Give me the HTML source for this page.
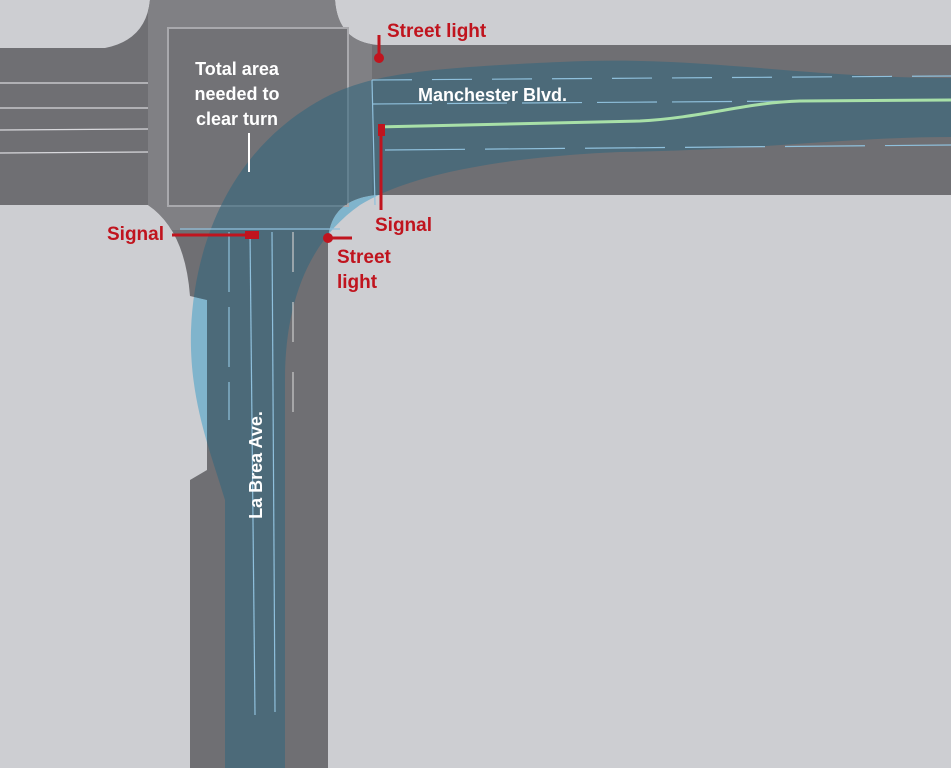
<!DOCTYPE html>
<html><head><style>body{margin:0;background:#cdced2}svg{display:block}text{font-family:"Liberation Sans",sans-serif;font-weight:bold}</style></head><body>
<svg width="951" height="768" viewBox="0 0 951 768">
<defs>
<clipPath id="road"><path d="M0,48 H105 Q146,40 150,0 H335 Q338,42 378,45 H951 V195 H375 Q330,200 328,240 V768 H190 V480 L207,470 V300 L190,296 Q185,230 148,205 H0 Z"/></clipPath>
</defs>
<rect width="951" height="768" fill="#cdced2"/>
<path d="M951,78 C800,78 700,55 560,62 C420,68 372,75 330,95 C240,140 195,230 191,330 C189,400 210,450 225,500 V768 H285 V380 C285,300 310,240 360,205 C400,180 480,158 620,152 C760,150 850,137 951,137 Z" fill="#80b4cc"/>
<path d="M0,48 H105 Q146,40 150,0 H335 Q338,42 378,45 H951 V195 H375 Q330,200 328,240 V768 H190 V480 L207,470 V300 L190,296 Q185,230 148,205 H0 Z" fill="#6f6f73"/>
<rect x="148" y="0" width="224" height="230" fill="#808084" clip-path="url(#road)"/>
<rect x="168" y="28" width="180" height="178" fill="#727276" stroke="#a9a9ad" stroke-width="2"/>
<g stroke="#d8d8dc" stroke-width="1.2">
<line x1="0" y1="83" x2="148" y2="83"/><line x1="0" y1="108" x2="148" y2="108"/><line x1="0" y1="130" x2="148" y2="129"/><line x1="0" y1="153" x2="148" y2="152"/>
</g>
<path d="M951,78 C800,78 700,55 560,62 C420,68 372,75 330,95 C240,140 195,230 191,330 C189,400 210,450 225,500 V768 H285 V380 C285,300 310,240 360,205 C400,180 480,158 620,152 C760,150 850,137 951,137 Z" fill="#35687d" opacity="0.6" clip-path="url(#road)"/>
<g stroke="#8fc0dc" stroke-width="1.2" fill="none">
<line x1="372" y1="80" x2="951" y2="76" stroke-dasharray="40,20"/>
<line x1="372" y1="104" x2="951" y2="100" stroke-dasharray="60,15"/>
<line x1="385" y1="150" x2="951" y2="145" stroke-dasharray="80,20"/>
<line x1="229" y1="232" x2="229" y2="420" stroke-dasharray="60,15"/>
<line x1="250" y1="232" x2="255" y2="715"/>
<line x1="272" y1="232" x2="275" y2="712"/>
<line x1="293" y1="232" x2="293" y2="420" stroke-dasharray="40,30" stroke="#ccc"/>
<line x1="372" y1="80" x2="375" y2="205"/>
<line x1="180" y1="229" x2="340" y2="229"/>
</g>
<path d="M378,127 L640,121 C700,118 750,102 800,101 L951,100" stroke="#a8e0a8" stroke-width="3" fill="none"/>
<line x1="249" y1="133" x2="249" y2="172" stroke="#fff" stroke-width="2"/>
<g fill="#fff" font-size="18" text-anchor="middle">
<text x="237" y="75">Total area</text><text x="237" y="100">needed to</text><text x="237" y="125">clear turn</text>
</g>
<text x="418" y="101" fill="#fff" font-size="18">Manchester Blvd.</text>
<text transform="translate(262,465) rotate(-90)" fill="#fff" font-size="18" text-anchor="middle">La Brea Ave.</text>
<g fill="#c0141e" stroke="#c0141e">
<line x1="379" y1="35" x2="379" y2="58" stroke-width="3"/><circle cx="379" cy="58" r="5" stroke="none"/>
<line x1="381" y1="126" x2="381" y2="210" stroke-width="3"/><rect x="378" y="124" width="7" height="12" stroke="none"/>
<line x1="172" y1="235" x2="255" y2="235" stroke-width="3"/><rect x="245" y="231" width="14" height="8" stroke="none"/>
<line x1="328" y1="238" x2="352" y2="238" stroke-width="3"/><circle cx="328" cy="238" r="5" stroke="none"/>
</g>
<g fill="#c0141e" font-size="19">
<text x="387" y="37">Street light</text>
<text x="375" y="231">Signal</text>
<text x="107" y="240">Signal</text>
<text x="337" y="263">Street</text><text x="337" y="288">light</text>
</g>
</svg>
</body></html>
